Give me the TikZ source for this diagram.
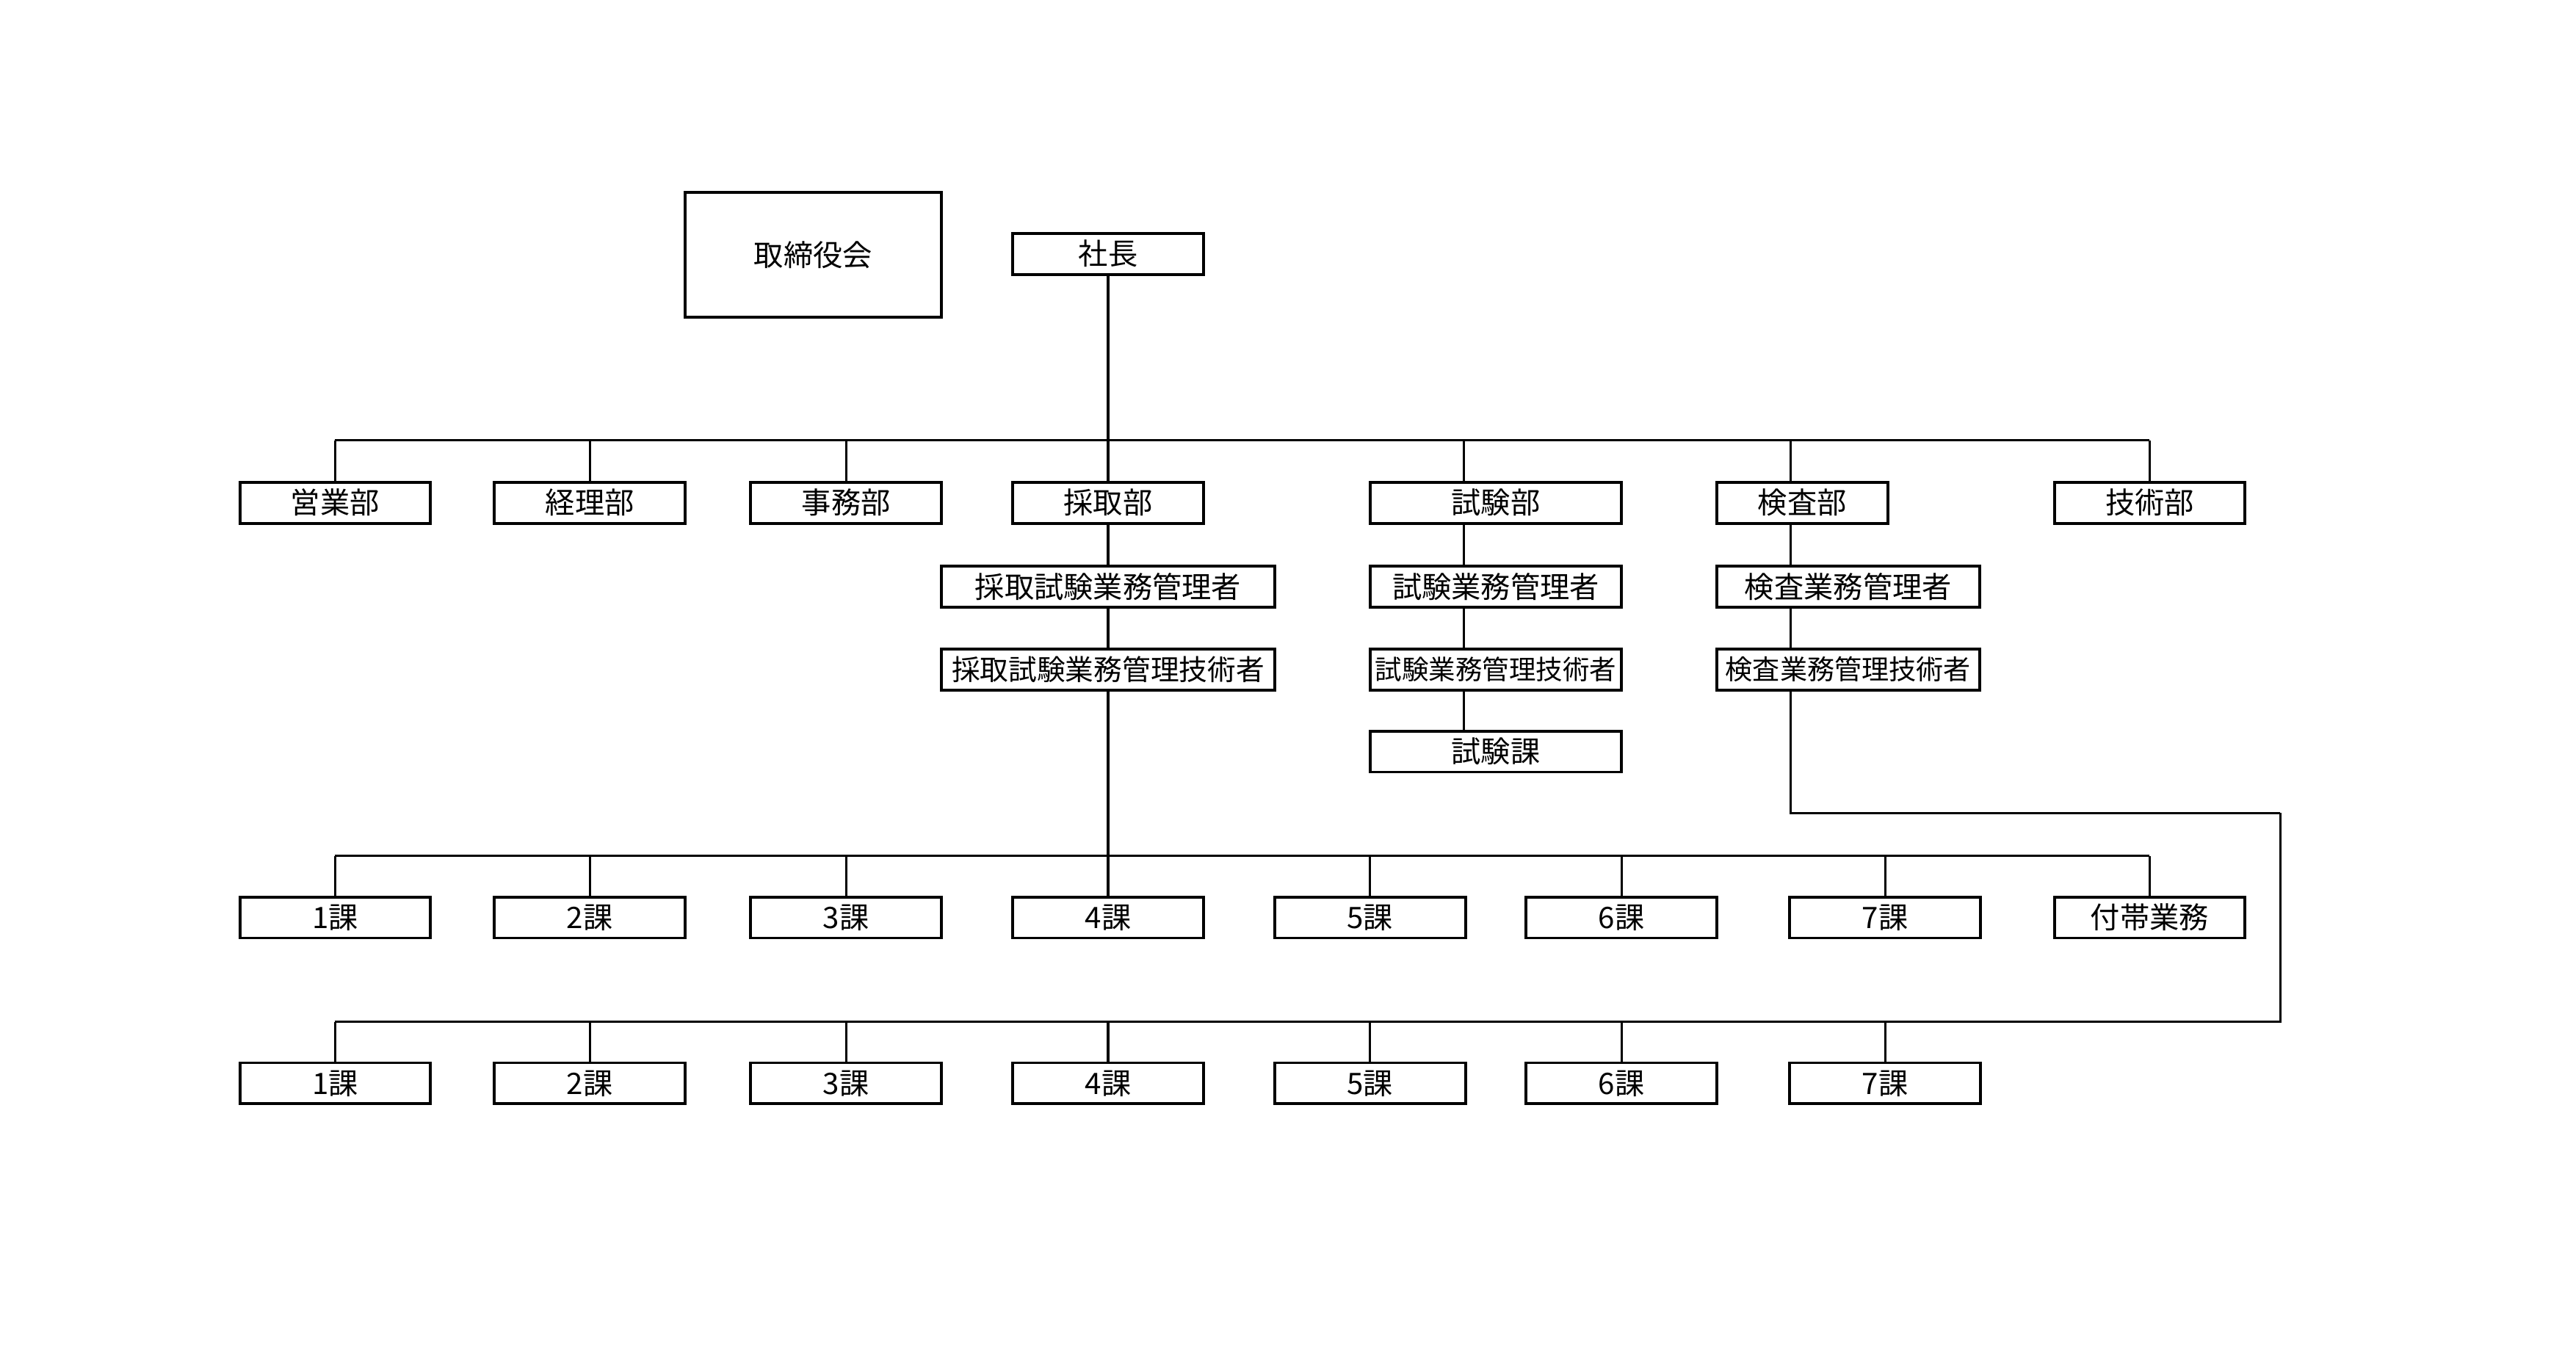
\documentclass[tikz,border=0pt]{standalone}
\usepackage{fontspec}
\newfontfamily\jpfont{Noto Sans CJK JP}
\begin{document}
\begin{tikzpicture}[x=0.025cm,y=-0.025cm,
  box/.style={draw,line width=1.25pt,inner sep=0pt,minimum height=0.625cm,minimum width=2.9cm,
    font=\jpfont\fontsize{12.8}{14}\selectfont},
  wide/.style={minimum width=3.825cm},
  conn/.style={line width=1pt},
  bar/.style={line width=1.15pt}]
\useasboundingbox (0,0) rectangle (1568,822);
\fill[white] (0,0) rectangle (1568,822);
% top
\node[box,minimum width=3.9cm,minimum height=1.9cm] (tori) at (495,155) {取締役会};
\node[box] (shacho) at (674.5,154.5) {社長};
% row 2
\node[box] (eigyo) at (204,306) {営業部};
\node[box] (keiri) at (359,306) {経理部};
\node[box] (jimu) at (515,306) {事務部};
\node[box] (saishu) at (674.5,306) {採取部};
\node[box,wide] (shiken) at (910.5,306) {試験部};
\node[box,minimum width=2.6cm] (kensa) at (1097,306) {検査部};
\node[box] (gijutsu) at (1308.5,306) {技術部};
% rows 3-5
\node[box,minimum width=5.075cm] (sm1) at (674.5,357) {採取試験業務管理者};
\node[box,minimum width=5.075cm,font=\jpfont\fontsize{12.3}{14}\selectfont] (sm2) at (674.5,407.5) {採取試験業務管理技術者};
\node[box,wide] (tm1) at (910.5,357) {試験業務管理者};
\node[box,wide,font=\jpfont\fontsize{11.6}{14}\selectfont] (tm2) at (910.5,407.5) {試験業務管理技術者};
\node[box,wide] (tka) at (910.5,457.5) {試験課};
\node[box,minimum width=4cm] (km1) at (1125,357) {検査業務管理者};
\node[box,minimum width=4cm,font=\jpfont\fontsize{11.8}{14}\selectfont] (km2) at (1125,407.5) {検査業務管理技術者};
% row 6
\node[box] (a1) at (204,558.5) {1課};
\node[box] (a2) at (359,558.5) {2課};
\node[box] (a3) at (515,558.5) {3課};
\node[box] (a4) at (674.5,558.5) {4課};
\node[box] (a5) at (834,558.5) {5課};
\node[box] (a6) at (987,558.5) {6課};
\node[box] (a7) at (1147.5,558.5) {7課};
\node[box] (futai) at (1308.5,558.5) {付帯業務};
% row 7
\node[box] (b1) at (204,659.5) {1課};
\node[box] (b2) at (359,659.5) {2課};
\node[box] (b3) at (515,659.5) {3課};
\node[box] (b4) at (674.5,659.5) {4課};
\node[box] (b5) at (834,659.5) {5課};
\node[box] (b6) at (987,659.5) {6課};
\node[box] (b7) at (1147.5,659.5) {7課};
% helper coordinates
\coordinate (topbar) at (0,268);
\coordinate (midbar) at (0,521);
\coordinate (botbar) at (0,622);
\coordinate (tx) at (891,0);
\coordinate (kx) at (1090,0);
\coordinate (rt) at (1388,495);
% top bar
\draw[bar] (eigyo.north |- topbar) -- (gijutsu.north |- topbar);
\draw[conn] (shacho.south) -- (saishu.north);
\foreach \n in {eigyo,keiri,jimu,gijutsu}
  \draw[conn] (\n.north |- topbar) -- (\n.north);
\draw[conn] (tx |- topbar) -- (tx |- shiken.north);
\draw[conn] (kx |- topbar) -- (kx |- kensa.north);
% chains
\draw[conn] (saishu.south) -- (sm1.north);
\draw[conn] (sm1.south) -- (sm2.north);
\draw[conn] (sm2.south) -- (a4.north);
\draw[conn] (tx |- shiken.south) -- (tx |- tm1.north);
\draw[conn] (tx |- tm1.south) -- (tx |- tm2.north);
\draw[conn] (tx |- tm2.south) -- (tx |- tka.north);
\draw[conn] (kx |- kensa.south) -- (kx |- km1.north);
\draw[conn] (kx |- km1.south) -- (kx |- km2.north);
% middle bar
\draw[bar] (a1.north |- midbar) -- (futai.north |- midbar);
\foreach \n in {a1,a2,a3,a5,a6,a7,futai}
  \draw[conn] (\n.north |- midbar) -- (\n.north);
% kensa route and bottom bar
\draw[conn] (kx |- km2.south) |- (rt);
\draw[bar] (rt) |- (b1.north |- botbar);
\foreach \n in {b1,b2,b3,b4,b5,b6,b7}
  \draw[conn] (\n.north |- botbar) -- (\n.north);
\end{tikzpicture}
\end{document}
